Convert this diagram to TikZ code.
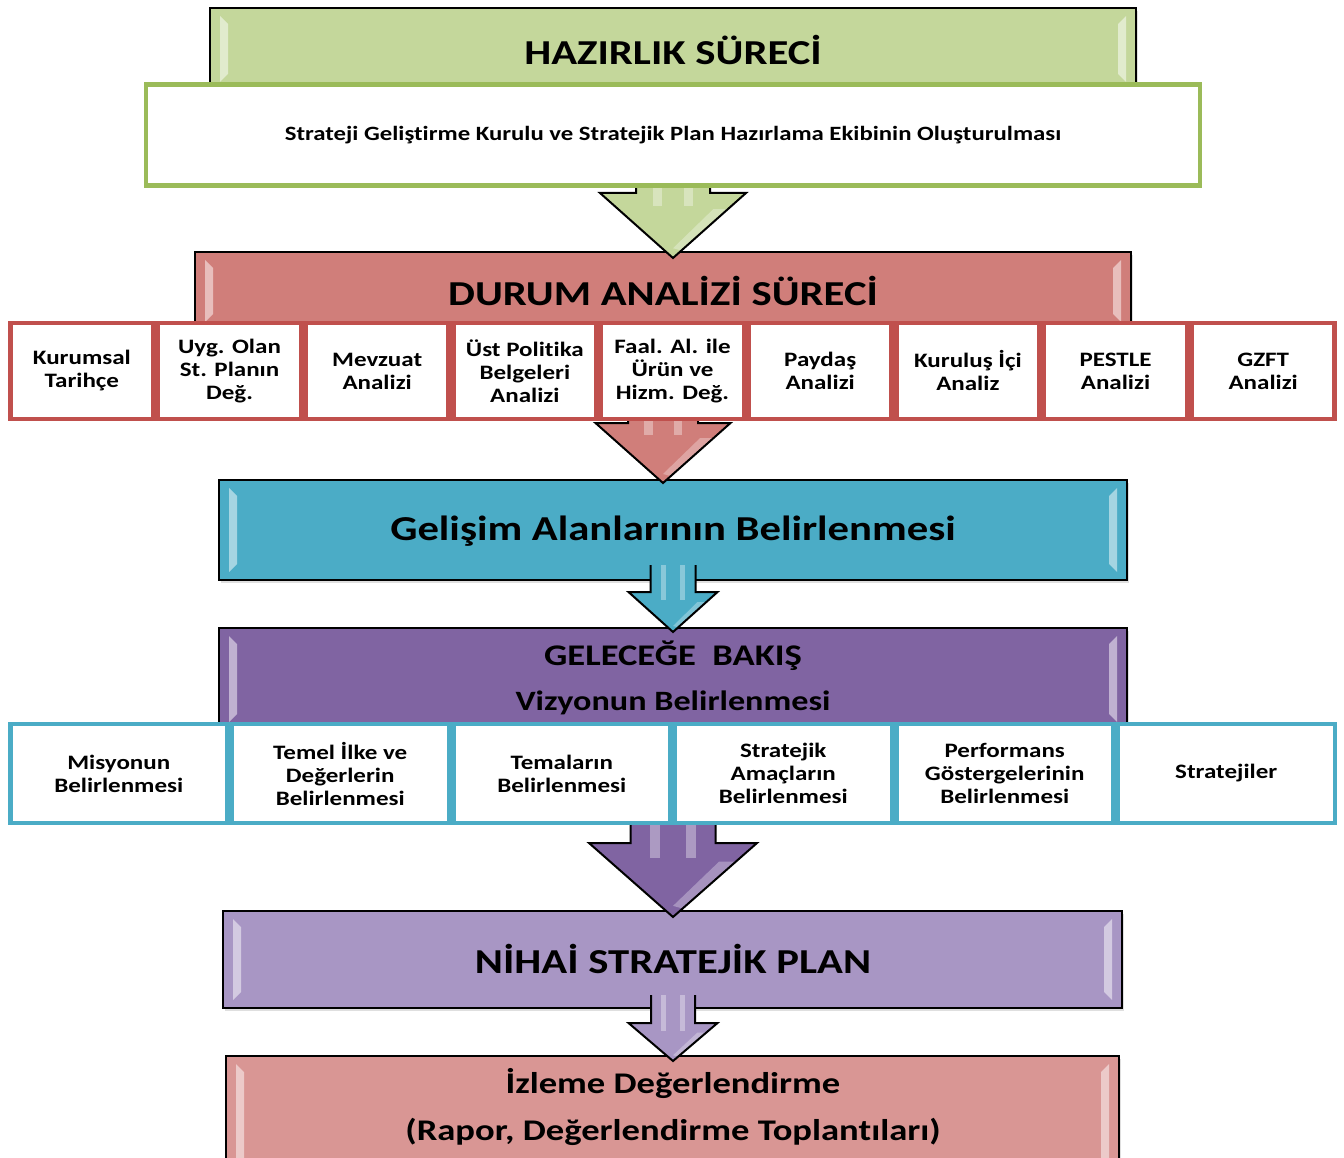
\documentclass[tikz,border=0pt]{standalone}
\usepackage{fontspec}
\setmainfont{Carlito}[FakeStretch=1.22, Ligatures={NoCommon}]
\usetikzlibrary{shadows}
\definecolor{hzfill}{RGB}{196,215,155}
\definecolor{hzline}{RGB}{155,187,89}
\definecolor{durfill}{RGB}{208,126,122}
\definecolor{redline}{RGB}{192,80,77}
\definecolor{gelfill}{RGB}{75,172,198}
\definecolor{bakfill}{RGB}{128,100,162}
\definecolor{nihfill}{RGB}{168,150,196}
\definecolor{izlfill}{RGB}{217,150,148}
\tikzset{
  bigbox/.style={draw=black, line width=2pt, inner sep=0pt, rectangle,
    drop shadow={shadow xshift=2pt, shadow yshift=-3pt, opacity=0.25}},
  cellbox/.style={draw, line width=4.5pt, fill=white, inner sep=0pt, rectangle,
    align=center, font=\bfseries\fontsize{20.5}{23}\selectfont},
  arrowline/.style={draw=black, line width=2pt, line join=miter},
  headtext/.style={inner sep=0pt, font=\bfseries\fontsize{35}{40}\selectfont},
  midtext/.style={inner sep=0pt, font=\bfseries\fontsize{30}{34}\selectfont},
  stripe/.style={fill=white, opacity=0.35, draw=none},
}
% bevel strips: #1 L, #2 T, #3 R, #4 B, #5 colour
\newcommand\bevelstrips[5]{%
  \fill[#5!50!white] (#1+10,#2+8) -- (#1+18,#2+16) -- (#1+18,#4-16) -- (#1+10,#4-8) -- cycle;
  \fill[#5!50!white] (#3-10,#2+8) -- (#3-18,#2+16) -- (#3-18,#4-16) -- (#3-10,#4-8) -- cycle;
}
% block arrow: #1 cx, #2 shaft top, #3 head top, #4 tip, #5 shaft half, #6 head half, #7 colour
\newcommand\blkarrow[7]{%
  \fill[#7] (#1-#5,#2) -- (#1-#5,#3) -- (#1-#6,#3) -- (#1,#4) -- (#1+#6,#3) -- (#1+#5,#3) -- (#1+#5,#2) -- cycle;
  \fill[stripe] (#1-0.55*#5,#2) rectangle (#1-0.3*#5,#3+0.2*#4-0.2*#3);
  \fill[stripe] (#1+0.3*#5,#2) rectangle (#1+0.55*#5,#3+0.2*#4-0.2*#3);
  \fill[white, opacity=0.3] (#1+0.55*#6,#3+0.25*#4-0.25*#3) -- (#1+0.75*#6,#3+0.25*#4-0.25*#3) -- (#1+0.1*#6,#4-0.12*#4+0.12*#3) -- (#1,#4-0.15*#4+0.15*#3) -- cycle;
  \draw[arrowline] (#1-#5,#2) -- (#1-#5,#3) -- (#1-#6,#3) -- (#1,#4) -- (#1+#6,#3) -- (#1+#5,#3) -- (#1+#5,#2);
}
\begin{document}
\begin{tikzpicture}[x=1pt,y=-1pt]
\useasboundingbox (0,0) rectangle (1344,1158);
\clip (0,0) rectangle (1344,1158);

% ---- big boxes ----
\node[bigbox, fill=hzfill, minimum width=926pt, minimum height=82pt] (haz) at (673,49) {};
\bevelstrips{210}{8}{1136}{90}{hzfill}
\node[headtext] (hazt) at (673,50) {HAZIRLIK SÜRECİ};

\node[bigbox, fill=durfill, minimum width=936pt, minimum height=78pt] (dur) at (663,291) {};
\bevelstrips{195}{252}{1131}{330}{durfill}
\node[headtext] (durt) at (663,291) {DURUM ANALİZİ SÜRECİ};

\node[bigbox, fill=gelfill, minimum width=908pt, minimum height=100pt] (gel) at (673,530) {};
\bevelstrips{219}{480}{1127}{580}{gelfill}
\node[headtext] (gelt) at (673,531) {Gelişim Alanlarının Belirlenmesi};

\node[bigbox, fill=bakfill, minimum width=908pt, minimum height=102pt] (bak) at (673,679) {};
\bevelstrips{219}{628}{1127}{730}{bakfill}
\node[midtext] (bakt1) at (673,656) {GELECEĞE\ \ BAKIŞ};
\node[midtext, font=\bfseries\fontsize{28}{34}\selectfont] (bakt2) at (673,703) {Vizyonun Belirlenmesi};

\node[bigbox, fill=nihfill, minimum width=899pt, minimum height=97pt] (nih) at (672.5,959.5) {};
\bevelstrips{223}{911}{1122}{1008}{nihfill}
\node[headtext] (niht) at (673,959) {NİHAİ STRATEJİK PLAN};

\node[bigbox, fill=izlfill, minimum width=893pt, minimum height=130pt] (izl) at (672.5,1121) {};
\bevelstrips{226}{1056}{1119}{1186}{izlfill}
\node[midtext] (izlt1) at (673,1083) {İzleme Değerlendirme};
\node[midtext] (izlt2) at (673,1132) {(Rapor, Değerlendirme Toplantıları)};

% ---- block arrows ----
\blkarrow{673}{150}{193}{258}{37}{73}{hzfill}
\blkarrow{663}{400}{423}{483}{35}{67.5}{durfill}
\blkarrow{673}{565}{592}{632}{22.5}{44.5}{gelfill}
\blkarrow{673}{800}{843}{917}{42.5}{84}{bakfill}
\blkarrow{673}{995}{1023}{1061}{22}{44.5}{nihfill}

% ---- white box ----
\node[draw=hzline, line width=4.5pt, fill=white, inner sep=0pt, minimum width=1054pt, minimum height=101pt,
  font=\bfseries\fontsize{20.3}{24}\selectfont] (hzw) at (673,135)
  {Strateji Geliştirme Kurulu ve Stratejik Plan Hazırlama Ekibinin Oluşturulması};

% ---- red cells ----
\foreach \t [count=\i] in {
  {Kurumsal\\Tarihçe},
  {Uyg. Olan\\St. Planın\\Değ.},
  {Mevzuat\\Analizi},
  {Üst Politika\\Belgeleri\\Analizi},
  {Faal. Al. ile\\Ürün ve\\Hizm. Değ.},
  {Paydaş\\Analizi},
  {Kuruluş İçi\\Analiz},
  {PESTLE\\Analizi},
  {GZFT\\Analizi}}{
  \node[cellbox, draw=redline, minimum width=143pt, minimum height=96pt] (r\i) at ({8+(\i-0.5)*147.67},371) {\t};
}

% ---- blue cells ----
\foreach \t [count=\i] in {
  {Misyonun\\Belirlenmesi},
  {Temel İlke ve\\Değerlerin\\Belirlenmesi},
  {Temaların\\Belirlenmesi},
  {Stratejik\\Amaçların\\Belirlenmesi},
  {Performans\\Göstergelerinin\\Belirlenmesi},
  {Stratejiler}}{
  \node[cellbox, draw=gelfill, minimum width=217pt, minimum height=99pt] (b\i) at ({8+(\i-0.5)*221.5},773.5) {\t};
}
\end{tikzpicture}
\end{document}
